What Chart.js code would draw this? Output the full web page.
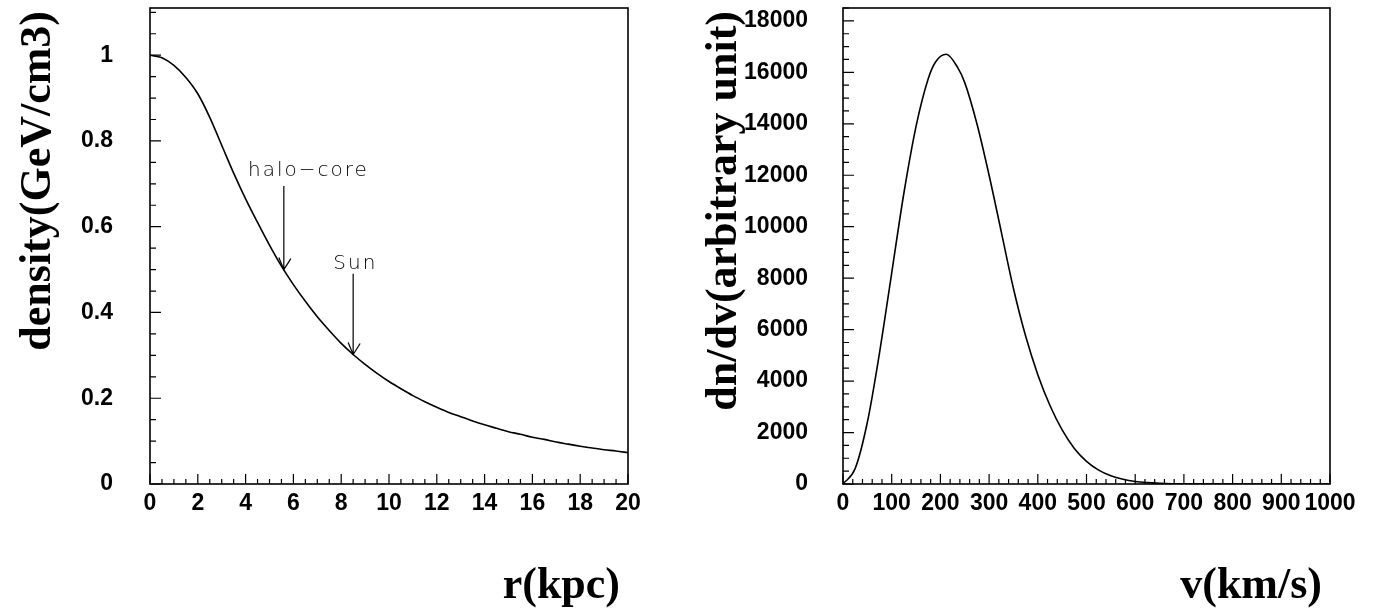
<!DOCTYPE html>
<html>
<head>
<meta charset="utf-8">
<script src="https://cdn.jsdelivr.net/npm/chart.js@4/dist/chart.umd.min.js"></script>
<style>
  html, body { margin: 0; background: #fff; }
  .wrap { position: absolute; left: 0; top: 0; width: 1373px; height: 610px; }
  .wrap canvas { position: absolute; left: 0; top: 0; }
</style>
</head>
<body>
<div class="wrap">
  <canvas id="densityChart" width="1373" height="610"></canvas>
  <canvas id="speedChart" width="1373" height="610"></canvas>
</div>
<script>
// ── data ──────────────────────────────────────────────────────────────────
const radius = [0, 0.5, 1, 1.5, 2, 2.5, 3, 3.5, 4, 4.5, 5, 5.5, 6, 6.5, 7, 7.5, 8, 8.5, 9, 9.5, 10,
                10.5, 11, 11.5, 12, 12.5, 13, 13.5, 14, 14.5, 15, 15.5, 16, 16.5, 17, 17.5, 18, 18.5, 19, 19.5, 20];
const density = [1.000, 0.994, 0.976, 0.948, 0.910, 0.855, 0.790, 0.725, 0.665, 0.610, 0.557,
                 0.508, 0.465, 0.426, 0.390, 0.358, 0.328, 0.302, 0.279, 0.258, 0.239,
                 0.222, 0.206, 0.192, 0.179, 0.167, 0.157, 0.147, 0.138, 0.130, 0.122,
                 0.116, 0.109, 0.104, 0.098, 0.093, 0.088, 0.084, 0.080, 0.077, 0.073];

const speed = [0, 25, 50, 75, 100, 125, 150, 175, 190, 212, 235, 250, 275, 300, 325, 350, 375, 400,
               425, 450, 475, 500, 525, 550, 575, 600, 625, 650, 675, 700, 800, 900, 1000];
const dndv  = [0, 600, 2400, 5100, 8200, 11300, 13900, 15750, 16400, 16700, 16200, 15600, 14000, 12000,
               9800, 7600, 5750, 4250, 3050, 2100, 1380, 880, 540, 320, 185, 100, 55, 28, 12, 5, 0, 0, 0];

const rTicks       = [0, 2, 4, 6, 8, 10, 12, 14, 16, 18, 20];
const densityTicks = [0, 0.2, 0.4, 0.6, 0.8, 1];
const speedTicks   = [0, 100, 200, 300, 400, 500, 600, 700, 800, 900, 1000];
const dndvTicks    = [0, 2000, 4000, 6000, 8000, 10000, 12000, 14000, 16000, 18000];

// arrows: where they point on the curve, where the shaft starts, and the text
const markers = [
  { name: 'halo−core', x: 5.6, from: 0.695, to: 0.5,   textX: 4.1,  textY: 0.73 },
  { name: 'Sun',       x: 8.5, from: 0.49,  to: 0.302, textX: 7.67, textY: 0.513 },
];

const TICK_FONT  = { family: '"Liberation Sans", Arial, sans-serif', weight: 'bold', size: 23 };
const TITLE_FONT = 'bold 44px "Liberation Serif", "Times New Roman", serif';
const NOTE_FONT  = '200 20px "DejaVu Sans", sans-serif';

// ── ROOT-style frame: box, inward minor/major ticks, end-aligned titles ────
const rootFrame = {
  id: 'rootFrame',
  afterDatasetsDraw(chart, _, o) {
    const { ctx, chartArea: a, scales: { x, y } } = chart;
    ctx.save();
    ctx.strokeStyle = '#000';
    ctx.lineWidth = 1.6;
    ctx.strokeRect(a.left, a.top, a.right - a.left, a.bottom - a.top);

    ctx.lineWidth = 1.2;
    ctx.beginPath();
    const nx = Math.round((x.max - x.min) / o.xMinor);
    for (let i = 0; i <= nx; i++) {
      const v = x.min + i * o.xMinor;
      const big = Math.abs(v / o.xMajor - Math.round(v / o.xMajor)) < 1e-6;
      const px = x.getPixelForValue(v);
      ctx.moveTo(px, a.bottom); ctx.lineTo(px, a.bottom - (big ? 10 : 5));
    }
    const ny = Math.floor((y.max - y.min) / o.yMinor + 1e-6);
    for (let i = 0; i <= ny; i++) {
      const v = y.min + i * o.yMinor;
      const big = Math.abs(v / o.yMajor - Math.round(v / o.yMajor)) < 1e-6;
      const py = y.getPixelForValue(v);
      ctx.moveTo(a.left, py); ctx.lineTo(a.left + (big ? 11 : 6), py);
    }
    ctx.stroke();

    // arrows + notes
    for (const m of (o.markers || [])) {
      const px = x.getPixelForValue(m.x);
      const top = y.getPixelForValue(m.from), tip = y.getPixelForValue(m.to);
      ctx.beginPath();
      ctx.moveTo(px, top); ctx.lineTo(px, tip);
      ctx.moveTo(px - 5, tip - 12); ctx.lineTo(px, tip); ctx.lineTo(px + 7, tip - 11);
      ctx.stroke();
      ctx.font = NOTE_FONT;
      ctx.letterSpacing = '2px';
      ctx.fillStyle = '#000';
      ctx.textAlign = 'left';
      ctx.textBaseline = 'middle';
      ctx.fillText(m.name, x.getPixelForValue(m.textX), y.getPixelForValue(m.textY));
      ctx.letterSpacing = '0px';
    }

    // axis titles, ROOT puts them at the far end of each axis
    ctx.fillStyle = '#000';
    ctx.font = TITLE_FONT;
    ctx.textBaseline = 'alphabetic';
    ctx.textAlign = 'right';
    ctx.fillText(o.xTitle, a.right - 8, 598);
    ctx.translate(o.yTitleX, a.top + 3);
    ctx.rotate(-Math.PI / 2);
    ctx.fillText(o.yTitle, 0, 0);
    ctx.restore();
  }
};

function makeChart(id, xs, ys, cfg) {
  return new Chart(document.getElementById(id), {
    type: 'line',
    data: {
      datasets: [{
        data: xs.map((v, i) => ({ x: v, y: ys[i] })),
        borderColor: '#000', borderWidth: 1.6, pointRadius: 0,
        cubicInterpolationMode: 'monotone', fill: false,
      }]
    },
    options: {
      responsive: false, animation: false,
      layout: { padding: cfg.padding },
      plugins: { legend: { display: false }, tooltip: { enabled: false }, rootFrame: cfg.frame },
      scales: {
        x: {
          type: 'linear', min: cfg.xMin, max: cfg.xMax,
          grid: { display: false, drawTicks: false }, border: { display: false },
          ticks: { color: '#000', font: TICK_FONT, padding: 6, maxRotation: 0, autoSkip: false,
                   callback: v => String(v) },
          afterBuildTicks: s => { s.ticks = cfg.xTicks.map(v => ({ value: v })); },
          afterFit: s => { s.height = cfg.xHeight; s.paddingLeft = 0; s.paddingRight = 0; }
        },
        y: {
          type: 'linear', min: cfg.yMin, max: cfg.yMax,
          grid: { display: false, drawTicks: false }, border: { display: false },
          ticks: { color: '#000', font: TICK_FONT, padding: cfg.yPad, autoSkip: false,
                   callback: v => String(v) },
          afterBuildTicks: s => { s.ticks = cfg.yTicks.map(v => ({ value: v })); },
          // label padding must not push the plot frame down
          afterFit: s => { s.width = cfg.yWidth; s.paddingTop = 0; s.paddingBottom = 0; }
        }
      }
    },
    plugins: [rootFrame]
  });
}

// left panel: halo density profile
makeChart('densityChart', radius, density, {
  xMin: 0, xMax: 20, yMin: 0, yMax: 1.11,
  xTicks: rTicks, yTicks: densityTicks,
  padding: { left: 0, top: 8, right: 1373 - 628, bottom: 0 },
  xHeight: 126, yWidth: 150, yPad: 37,
  frame: { xMinor: 0.5, xMajor: 2, yMinor: 0.05, yMajor: 0.2,
           xTitle: 'r(kpc)', yTitle: 'density(GeV/cm3)', yTitleX: 50, markers }
});

// right panel: speed distribution
makeChart('speedChart', speed, dndv, {
  xMin: 0, xMax: 1000, yMin: 0, yMax: 18500,
  xTicks: speedTicks, yTicks: dndvTicks,
  padding: { left: 743, top: 8, right: 1373 - 1330, bottom: 0 },
  xHeight: 126, yWidth: 100, yPad: 35,
  frame: { xMinor: 20, xMajor: 100, yMinor: 500, yMajor: 2000,
           xTitle: 'v(km/s)', yTitle: 'dn/dv(arbitrary unit)', yTitleX: 736 }
});
</script>
</body>
</html>
